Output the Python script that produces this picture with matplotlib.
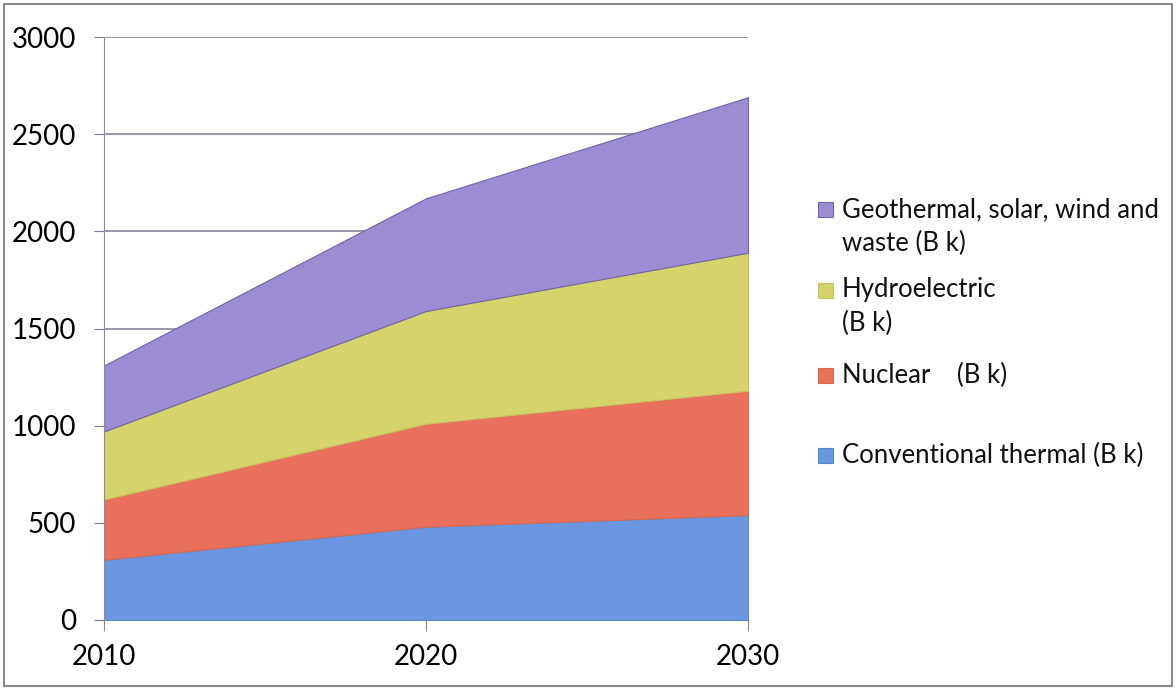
import matplotlib
matplotlib.use("Agg")
import matplotlib.pyplot as plt
from matplotlib.patches import Rectangle

years = [2010, 2020, 2030]
conventional = [310, 480, 540]
nuclear = [310, 530, 640]
hydro = [350, 580, 710]
renewables = [340, 580, 800]

labels = ["Conventional thermal (B k)", "Nuclear    (B k)", "Hydroelectric\n(B k)",
          "Geothermal, solar, wind and\nwaste (B k)"]
colors = ["#6A97DF", "#E9705C", "#D5D46C", "#9C8CD2"]
edge = ["#5a86cc", "#d86a50", "#c8c060", "#6e64a8"]

plt.rcParams['font.family'] = ['Lato', 'DejaVu Sans']

W, H = 1176, 689
fig = plt.figure(figsize=(W / 100, H / 100), dpi=100)
ax = fig.add_axes([104 / W, 1 - 620 / H, (748 - 104) / W, (620 - 37) / H])

polys = ax.stackplot(years, conventional, nuclear, hydro, renewables,
                     colors=colors, zorder=2)
for p, e in zip(polys, edge):
    p.set_edgecolor(e)
    p.set_linewidth(0.8)

ax.set_xlim(2010, 2030)
ax.set_ylim(0, 3000)
ax.set_yticks(range(0, 3001, 500))
ax.set_xticks(years)
ax.grid(axis='y', color='#7a7a90', linewidth=1.1, zorder=1)
ax.set_axisbelow(True)
for s in ['top', 'right', 'bottom']:
    ax.spines[s].set_visible(False)
ax.spines['left'].set_color('#8a8a9a')
ax.tick_params(axis='y', direction='out', length=7, color='#7a7a90', labelsize=20, pad=13)
ax.tick_params(axis='x', direction='out', length=8, color='#8a8a9a', labelsize=20, pad=9)

# custom legend (top entry first), marker aligned with first text line
order = [3, 2, 1, 0]
entry_y = [210, 290, 375, 455]
line_h = 33
for idx, yc in zip(order, entry_y):
    fig.add_artist(Rectangle((818 / W, 1 - (yc + 7.5) / H), 15 / W, 15 / H,
                             transform=fig.transFigure, facecolor=colors[idx],
                             edgecolor=edge[idx], linewidth=0.8))
    for k, line in enumerate(labels[idx].split("\n")):
        fig.text(842 / W, 1 - (yc + k * line_h) / H, line, fontsize=18.5,
                 va='center', ha='left', color='#111111')

fig.add_artist(Rectangle((0.003, 0.004), 0.994, 0.99, transform=fig.transFigure,
                         fill=False, edgecolor='#8a8a8a', linewidth=1.5))

fig.savefig("out.png", dpi=100)
